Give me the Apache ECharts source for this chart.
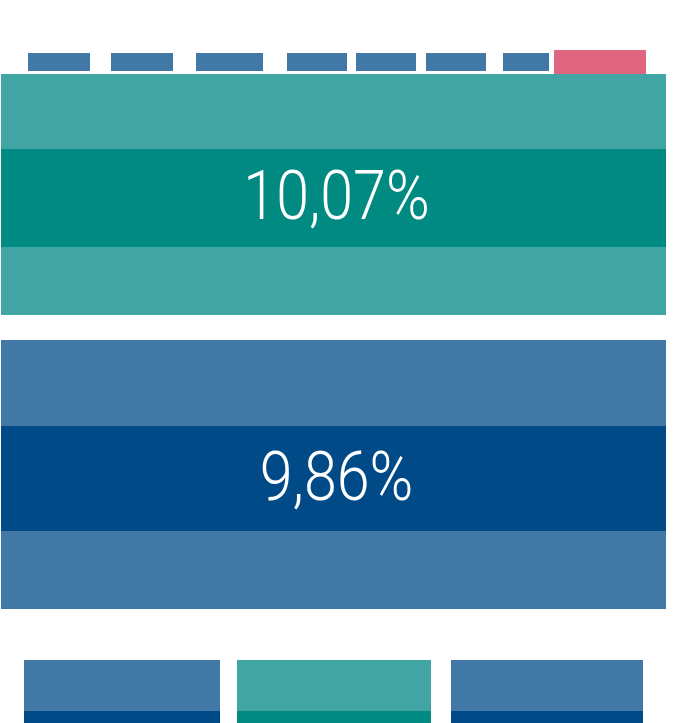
<!DOCTYPE html>
<html>
<head>
<meta charset="utf-8">
<style>
  html, body { margin: 0; padding: 0; background: #fff; }
  #chart { width: 675px; height: 723px; }
</style>
<script src="https://cdn.jsdelivr.net/npm/echarts@6/dist/echarts.min.js"></script>
</head>
<body>
<div id="chart"></div>
<script>
  // top strip: start / end along x, plus the highlighted last one
  const topStripStart = [28, 111, 196, 287, 356, 426, 503];
  const topStripEnd = [90, 173, 263, 347, 416, 486, 549];
  const topStripRange = [53, 71];
  const highlightStart = 554;
  const highlightEnd = 646;
  const highlightRange = [50, 74];

  // the two large bands: outer range, inner (dark) range, label
  const bandNames = ["teal", "blue"];
  const bandOuter = [[74, 315], [340, 609]];
  const bandInner = [[149, 247], [426, 531]];
  const bandLabels = ["10,07%", "9,86%"];
  const bandSpan = [1, 666];

  // bottom bars
  const bottomStart = [24, 237, 451];
  const bottomEnd = [220, 431, 643];
  const bottomKind = ["blue", "teal", "blue"];
  const bottomRange = [660, 723];
  const bottomDarkFrom = 711;

  const light = { blue: "#4178a5", teal: "#41a6a3" };
  const dark = { blue: "#004a87", teal: "#018a82" };
  const pink = "#e0667f";

  // build rectangles: [x0, x1, y0, y1, color]
  const rects = [];
  topStripStart.forEach((s, i) => {
    rects.push([s, topStripEnd[i], topStripRange[0], topStripRange[1], light.blue]);
  });
  rects.push([highlightStart, highlightEnd, highlightRange[0], highlightRange[1], pink]);
  bandNames.forEach((k, i) => {
    rects.push([bandSpan[0], bandSpan[1], bandOuter[i][0], bandOuter[i][1], light[k]]);
    rects.push([bandSpan[0], bandSpan[1], bandInner[i][0], bandInner[i][1], dark[k]]);
  });
  bottomStart.forEach((s, i) => {
    const k = bottomKind[i];
    rects.push([s, bottomEnd[i], bottomRange[0], bottomRange[1], light[k]]);
    rects.push([s, bottomEnd[i], bottomDarkFrom, bottomRange[1], dark[k]]);
  });

  const labelData = bandLabels.map((t, i) => [
    (bandSpan[0] + bandSpan[1]) / 2,
    (bandInner[i][0] + bandInner[i][1]) / 2,
    t
  ]);

  const chart = echarts.init(document.getElementById("chart"), null, { renderer: "canvas" });

  chart.setOption({
    animation: false,
    grid: { left: 0, right: 0, top: 0, bottom: 0 },
    xAxis: { type: "value", min: 0, max: 675, show: false },
    yAxis: { type: "value", min: 0, max: 723, inverse: true, show: false },
    series: [
      {
        type: "custom",
        data: rects,
        renderItem(params, api) {
          const p0 = api.coord([api.value(0), api.value(2)]);
          const p1 = api.coord([api.value(1), api.value(3)]);
          return {
            type: "rect",
            shape: { x: p0[0], y: p0[1], width: p1[0] - p0[0], height: p1[1] - p0[1] },
            style: { fill: rects[params.dataIndex][4] }
          };
        }
      },
      {
        type: "custom",
        data: labelData,
        z: 5,
        renderItem(params, api) {
          const p = api.coord([api.value(0), api.value(1)]);
          return {
            type: "text",
            x: p[0] + 3,
            y: p[1] + 4,
            scaleX: 0.87,
            style: {
              text: labelData[params.dataIndex][2],
              fill: "#fff",
              fontFamily: "Roboto",
              fontWeight: 300,
              fontSize: 68,
              align: "center",
              verticalAlign: "middle"
            }
          };
        }
      }
    ]
  });
</script>
</body>
</html>
